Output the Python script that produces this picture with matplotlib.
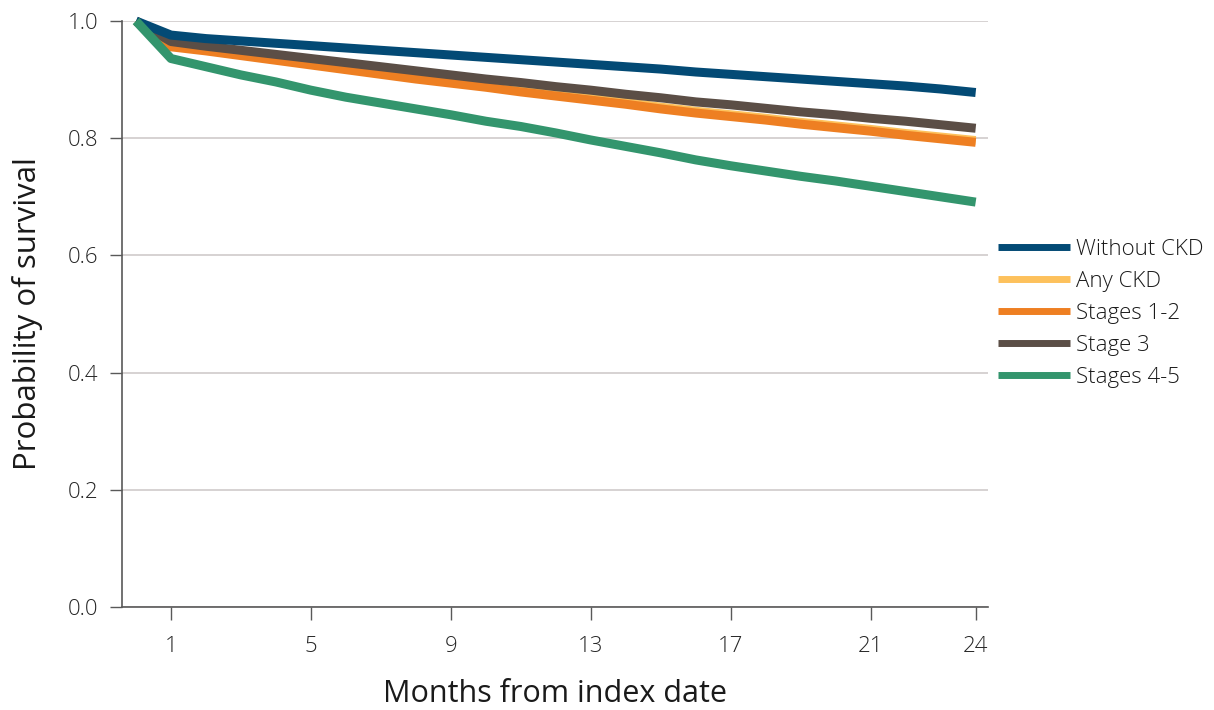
import matplotlib
matplotlib.use("Agg")
import matplotlib.pyplot as plt

# Survival curves, months 0..24
months = list(range(25))

without_ckd = [1.000, 0.976, 0.970, 0.966, 0.962, 0.958, 0.954, 0.950, 0.946,
               0.942, 0.938, 0.934, 0.930, 0.926, 0.922, 0.918, 0.913, 0.909,
               0.905, 0.901, 0.897, 0.893, 0.889, 0.884, 0.878]
any_ckd = [1.000, 0.958, 0.951, 0.943, 0.935, 0.927, 0.919, 0.911, 0.903,
           0.896, 0.889, 0.882, 0.875, 0.868, 0.861, 0.853, 0.846, 0.840,
           0.834, 0.827, 0.821, 0.815, 0.808, 0.802, 0.796]
stages_1_2 = [1.000, 0.956, 0.949, 0.941, 0.933, 0.925, 0.917, 0.909, 0.901,
              0.894, 0.887, 0.879, 0.872, 0.865, 0.858, 0.850, 0.843, 0.837,
              0.831, 0.824, 0.818, 0.812, 0.805, 0.799, 0.793]
stage_3 = [1.000, 0.965, 0.957, 0.950, 0.943, 0.936, 0.929, 0.922, 0.915,
           0.908, 0.901, 0.895, 0.888, 0.882, 0.875, 0.869, 0.862, 0.857,
           0.851, 0.845, 0.840, 0.834, 0.829, 0.823, 0.817]
stages_4_5 = [1.000, 0.936, 0.922, 0.908, 0.896, 0.882, 0.870, 0.860, 0.850,
              0.840, 0.829, 0.820, 0.809, 0.797, 0.786, 0.775, 0.763, 0.753,
              0.744, 0.735, 0.727, 0.718, 0.709, 0.700, 0.691]

labels = ["Without CKD", "Any CKD", "Stages 1-2", "Stage 3", "Stages 4-5"]
colors = ["#034a75", "#fdc15c", "#ee7f22", "#5b4e46", "#33956d"]
zorders = [5, 2, 3, 4, 6]
series = [without_ckd, any_ckd, stages_1_2, stage_3, stages_4_5]

xticks = [1, 5, 9, 13, 17, 21, 24]
yticks = [0.0, 0.2, 0.4, 0.6, 0.8, 1.0]

plt.rcParams["font.family"] = ["Open Sans", "DejaVu Sans"]
plt.rcParams["font.weight"] = "light"

fig = plt.figure(figsize=(12.14, 7.1), dpi=100)
ax = fig.add_axes([0.1005, 0.145, 0.713, 0.8254])

for vals, lab, col, z in zip(series, labels, colors, zorders):
    ax.plot(months, vals, color=col, lw=6.5, label=lab, zorder=z,
            solid_joinstyle="round", solid_capstyle="butt", clip_on=False)

ax.set_xlim(-0.4, 24.34)
ax.set_ylim(0, 1.0)
ax.set_xticks(xticks)
ax.set_yticks(yticks)
ax.set_yticklabels([f"{v:.1f}" for v in yticks])

ax.yaxis.grid(True, color="#d3cfcf", lw=1.3)
ax.set_axisbelow(True)
for s in ["top", "right"]:
    ax.spines[s].set_visible(False)
for s in ["left", "bottom"]:
    ax.spines[s].set_color("#595959")
    ax.spines[s].set_linewidth(1.2)

ax.tick_params(axis="both", length=9, width=1.0, color="#595959",
               labelsize=16, labelcolor="#262626", pad=12)
ax.tick_params(axis="y", pad=8)

ax.set_xlabel("Months from index date", fontsize=22, color="#1a1a1a", labelpad=16)
ax.set_ylabel("Probability of survival", fontsize=22.5, color="#1a1a1a", labelpad=18)

leg = fig.legend(loc="center left", bbox_to_anchor=(0.822, 0.5585),
                 frameon=False, fontsize=16, handlelength=3.25,
                 handletextpad=0.25, labelspacing=0.5, borderpad=0,
                 borderaxespad=0)
for line in leg.get_lines():
    line.set_linewidth(5)
    line.set_solid_capstyle("butt")
for t in leg.get_texts():
    t.set_color("#1a1a1a")

fig.savefig("out.png", dpi=100)
